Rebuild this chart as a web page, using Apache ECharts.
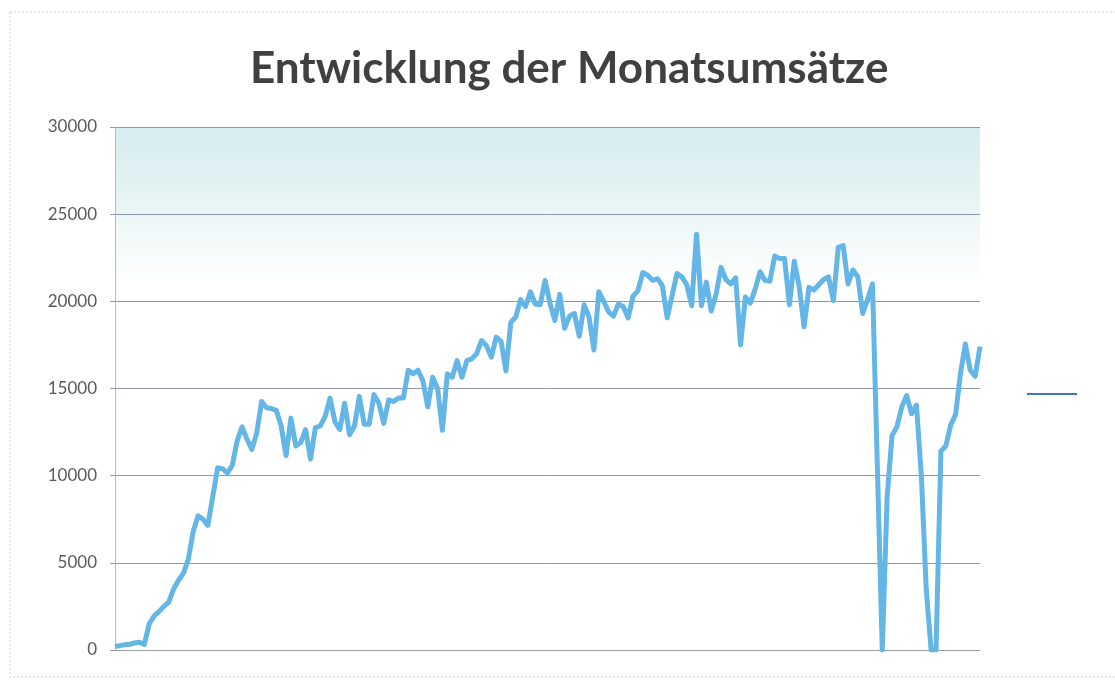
<!DOCTYPE html>
<html>
<head>
<meta charset="utf-8">
<title>Entwicklung der Monatsumsätze</title>
<script src="https://cdn.jsdelivr.net/npm/echarts@6/dist/echarts.min.js"></script>
<style>
  html, body { margin: 0; padding: 0; background: #fff; }
  #chart { width: 1115px; height: 680px; }
</style>
</head>
<body>
<div id="chart"></div>
<script>
// Monatsumsätze
const umsatz = [
  200, 250, 300, 330, 400, 450, 320, 1500, 1950, 2200,
  2500, 2750, 3500, 4000, 4400, 5200, 6800, 7700, 7500, 7150,
  8800, 10450, 10400, 10150, 10600, 12000, 12800, 12100, 11500, 12450,
  14250, 13900, 13850, 13750, 12850, 11150, 13300, 11700, 11900, 12650,
  10950, 12750, 12850, 13400, 14450, 13100, 12650, 14150, 12350, 12850,
  14550, 12950, 12950, 14650, 14150, 13000, 14350, 14250, 14450, 14450,
  16050, 15850, 16050, 15450, 13950, 15650, 15000, 12600, 15850, 15650,
  16600, 15650, 16600, 16700, 17000, 17750, 17450, 16800, 17950, 17700,
  16000, 18800, 19100, 20100, 19700, 20550, 19850, 19800, 21200, 19900,
  18900, 20400, 18450, 19150, 19300, 18000, 19800, 19100, 17200, 20550,
  20000, 19400, 19150, 19850, 19700, 19050, 20300, 20600, 21650, 21500,
  21200, 21300, 20900, 19050, 20350, 21600, 21400, 20950, 19750, 23850,
  19750, 21100, 19450, 20400, 21950, 21250, 21000, 21350, 17500, 20250,
  19900, 20700, 21700, 21200, 21150, 22600, 22450, 22450, 19800, 22300,
  20850, 18550, 20800, 20650, 20950, 21250, 21400, 20050, 23100, 23200,
  21000, 21800, 21400, 19300, 20100, 21000, 10500, 0, 8800, 12300,
  12800, 13950, 14600, 13550, 14050, 10000, 3500, 0, 0, 11400,
  11700, 12900, 13500, 15850, 17550, 16050, 15700, 17400
]
const monate = umsatz.map((v, i) => String(i + 1))
const yTicks = [0, 5000, 10000, 15000, 20000, 25000, 30000]

const chart = echarts.init(document.getElementById('chart'), null, { renderer: 'canvas' })

chart.setOption({
  backgroundColor: '#fff',
  animation: false,
  title: {
    text: 'Entwicklung der Monatsumsätze',
    left: 250,
    top: 47,
    padding: 0,
    textStyle: {
      fontFamily: 'Lato',
      fontSize: 44,
      fontWeight: 'bold',
      color: '#404040'
    }
  },
  // Rahmen des Diagramms
  graphic: [
    {
      type: 'rect',
      shape: { x: 10, y: 12, width: 1120, height: 665 },
      style: { fill: 'none', stroke: '#cfcfcf', lineWidth: 1, lineDash: [2, 2] },
      silent: true
    }
  ],
  legend: {
    left: 1022,
    top: 388,
    icon: 'rect',
    itemWidth: 50,
    itemHeight: 2,
    textStyle: { fontSize: 1, color: '#fff' },
    data: [{ name: ' ', itemStyle: { color: '#4a72c4' } }]
  },
  grid: {
    left: 115,
    right: 135,
    top: 127,
    bottom: 30,
    show: true,
    borderWidth: 0,
    backgroundColor: new echarts.graphic.LinearGradient(0, 0, 0, 1, [
      { offset: 0, color: '#d6ecee' },
      { offset: 0.12, color: '#e4f3f3' },
      { offset: 0.24, color: '#f7fbfb' },
      { offset: 0.3, color: '#ffffff' },
      { offset: 1, color: '#ffffff' }
    ])
  },
  xAxis: {
    type: 'category',
    data: monate,
    boundaryGap: false,
    axisLine: { show: true, lineStyle: { color: '#9a9ca8', width: 1 } },
    axisTick: { show: false },
    axisLabel: { show: false },
    splitLine: { show: false }
  },
  yAxis: {
    type: 'value',
    min: yTicks[0],
    max: yTicks[yTicks.length - 1],
    interval: 5000,
    axisLine: { show: true, lineStyle: { color: '#b8b8b8', width: 1 } },
    axisTick: { show: true, length: 5, lineStyle: { color: '#9a9a9a' } },
    axisLabel: {
      margin: 18,
      fontFamily: 'Lato',
      fontSize: 17,
      color: '#5a5a5a',
      formatter: v => String(v)
    },
    splitLine: { show: true, lineStyle: { color: '#8f96ae', width: 1 } }
  },
  series: [
    {
      name: ' ',
      type: 'line',
      data: umsatz,
      symbol: 'none',
      lineStyle: { color: '#64b6e6', width: 5, join: 'round' },
      itemStyle: { color: '#64b6e6' }
    }
  ]
})
</script>
</body>
</html>
